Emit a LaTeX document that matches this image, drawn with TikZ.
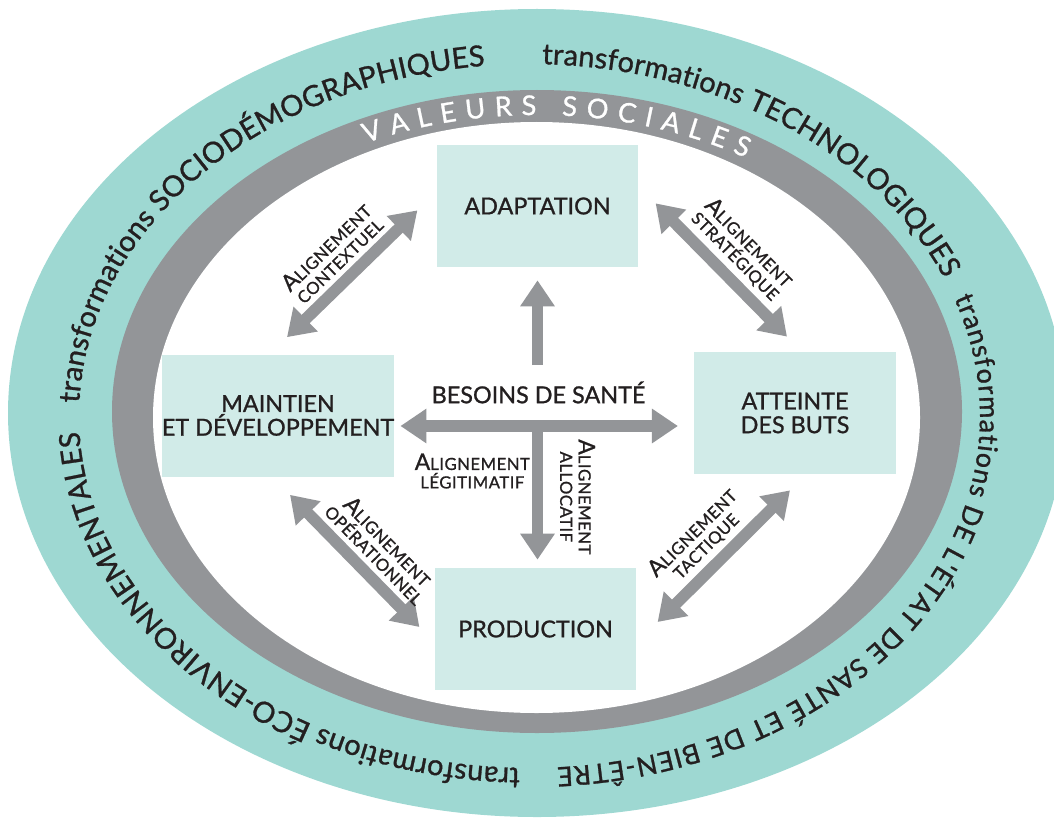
\documentclass[tikz,border=0pt]{standalone}
\usepackage{fontspec}
\setmainfont{Lato}
\newfontfamily\mediumfamily[FakeBold=1]{Lato}
\usetikzlibrary{arrows.meta,decorations.text}

\definecolor{ringteal}{RGB}{158,216,210}
\definecolor{ringgray}{RGB}{147,149,152}
\definecolor{boxteal}{RGB}{209,235,232}
\definecolor{inkdark}{RGB}{35,31,32}

\newcommand{\ringfont}{\mediumfamily\fontsize{16.5}{16.5}\selectfont}
\newcommand{\longringfont}{\mediumfamily\fontsize{15.3}{15.3}\selectfont}
\newcommand{\valeursfont}{\mediumfamily\fontsize{15.5}{15.5}\selectfont}
\newcommand{\alignement}{{\fontsize{13}{13}\selectfont A}LIGNEMENT}

\begin{document}
\begin{tikzpicture}[>={Triangle[length=0.52cm,width=0.66cm]},
        block/.style={fill=boxteal, text=inkdark, inner sep=0pt, minimum width=4.03cm,
            minimum height=2.44cm, align=center, font=\mediumfamily\fontsize{13.3}{13.5}\selectfont},
        bigarrow/.style={draw=ringgray, line width=6.6pt},
        tag/.style={text=inkdark, inner sep=1pt, align=center,
            font=\mediumfamily\fontsize{9.5}{10.5}\selectfont\addfontfeature{LetterSpace=3}},
        ringtext/.style={decorate, decoration={text along path, text align=fit to path,
            text color=inkdark, text={#1}}}]
            \useasboundingbox (0,0) rectangle (21.08,16.44);
            \clip (0,0) rectangle (21.08,16.44);

            \fill[ringteal] (10.74,8.18) ellipse [x radius=10.58, y radius=8.08];
            \fill[ringgray] (10.74,8.21) ellipse [x radius=8.50, y radius=6.43];
            \fill[white] (10.73,8.09) ellipse [x radius=7.67, y radius=5.91];

            \coordinate (Ring) at (10.59,8.12);
            \coordinate (Values) at (10.74,8.14);

            \path[ringtext={|\ringfont|transformations SOCIODÉMOGRAPHIQUES}] (Ring) ++(177.9:9.01 and 7.04)
                arc[start angle=177.9, end angle=95.7, x radius=9.01cm, y radius=7.04cm];
            \path[ringtext={|\ringfont|transformations TECHNOLOGIQUES}] (Ring) ++(88.4:9.01 and 7.04)
                arc[start angle=88.4, end angle=23, x radius=9.01cm, y radius=7.04cm];
            \path[ringtext={|\longringfont|transformations DE L'ÉTAT DE SANTÉ ET DE BIEN-ÊTRE}] (Ring) ++(19.5:9.01 and 7.04)
                arc[start angle=19.5, end angle=-86.5, x radius=9.01cm, y radius=7.04cm];
            \path[ringtext={|\ringfont|transformations ÉCO-ENVIRONNEMENTALES}] (Ring) ++(268.8:9.01 and 7.04)
                arc[start angle=268.8, end angle=182.6, x radius=9.01cm, y radius=7.04cm];
            \path[decorate, decoration={text along path, text align=fit to path, text color=white,
                text={|\valeursfont|VALEURS SOCIALES}}] (Values) ++(115:8.10 and 6.0)
                arc[start angle=115, end angle=59, x radius=8.10cm, y radius=6.0cm];

            \node[block] (Adaptation) at (10.75,12.32) {ADAPTATION};
            \node[block, minimum width=4.52cm] (Maintien) at (5.56,8.13) {MAINTIEN\\ET DÉVELOPPEMENT};
            \node[block] (Atteinte) at (15.90,8.18) {ATTEINTE\\DES BUTS};
            \node[block] (Production) at (10.71,3.86) {PRODUCTION};

            \node[text=inkdark, font=\mediumfamily\fontsize{13.3}{13}\selectfont] (Besoins) at (10.77,8.59) {BESOINS DE SANTÉ};
            \coordinate (Hub) at (10.75,7.92);
            \coordinate (Besoins Top) at (10.75,9.14);

            \draw[bigarrow,->,shorten >=0.26cm] (Besoins Top) to (Adaptation.south);
            \draw[bigarrow,<->,shorten <=0.12cm,shorten >=0.32cm] (Maintien.east |- Hub) to
                node[tag,pos=0.26,below=0.4cm] {\alignement\\LÉGITIMATIF} (Atteinte.west |- Hub);
            \draw[bigarrow,->,shorten >=0.16cm] (Hub) to
                node[tag,midway,sloped,allow upside down,above=0.3cm] {\alignement\\ALLOCATIF} (Hub |- Production.north);

            \draw[bigarrow,<->] ([shift={(0.18,0.34)}]Maintien.north) to
                node[tag,midway,sloped,above=2pt] {\alignement\\CONTEXTUEL} ([shift={(-0.38,1.14)}]Adaptation.south west);
            \draw[bigarrow,<->] ([shift={(0.34,1.28)}]Adaptation.south east) to
                node[tag,midway,sloped,above=2pt] {\alignement\\STRATÉGIQUE} ([shift={(-0.16,0.30)}]Atteinte.north);
            \draw[bigarrow,<->] ([shift={(0.24,-0.36)}]Maintien.south) to
                node[tag,pos=0.55,sloped,above=2pt] {\alignement\\OPÉRATIONNEL} ([shift={(-0.30,0.04)}]Production.west);
            \draw[bigarrow,<->] ([shift={(0.42,0.14)}]Production.east) to
                node[tag,pos=0.47,sloped,above=2pt] {\alignement\\TACTIQUE} ([shift={(-0.10,-0.32)}]Atteinte.south);
        \end{tikzpicture}
\end{document}
